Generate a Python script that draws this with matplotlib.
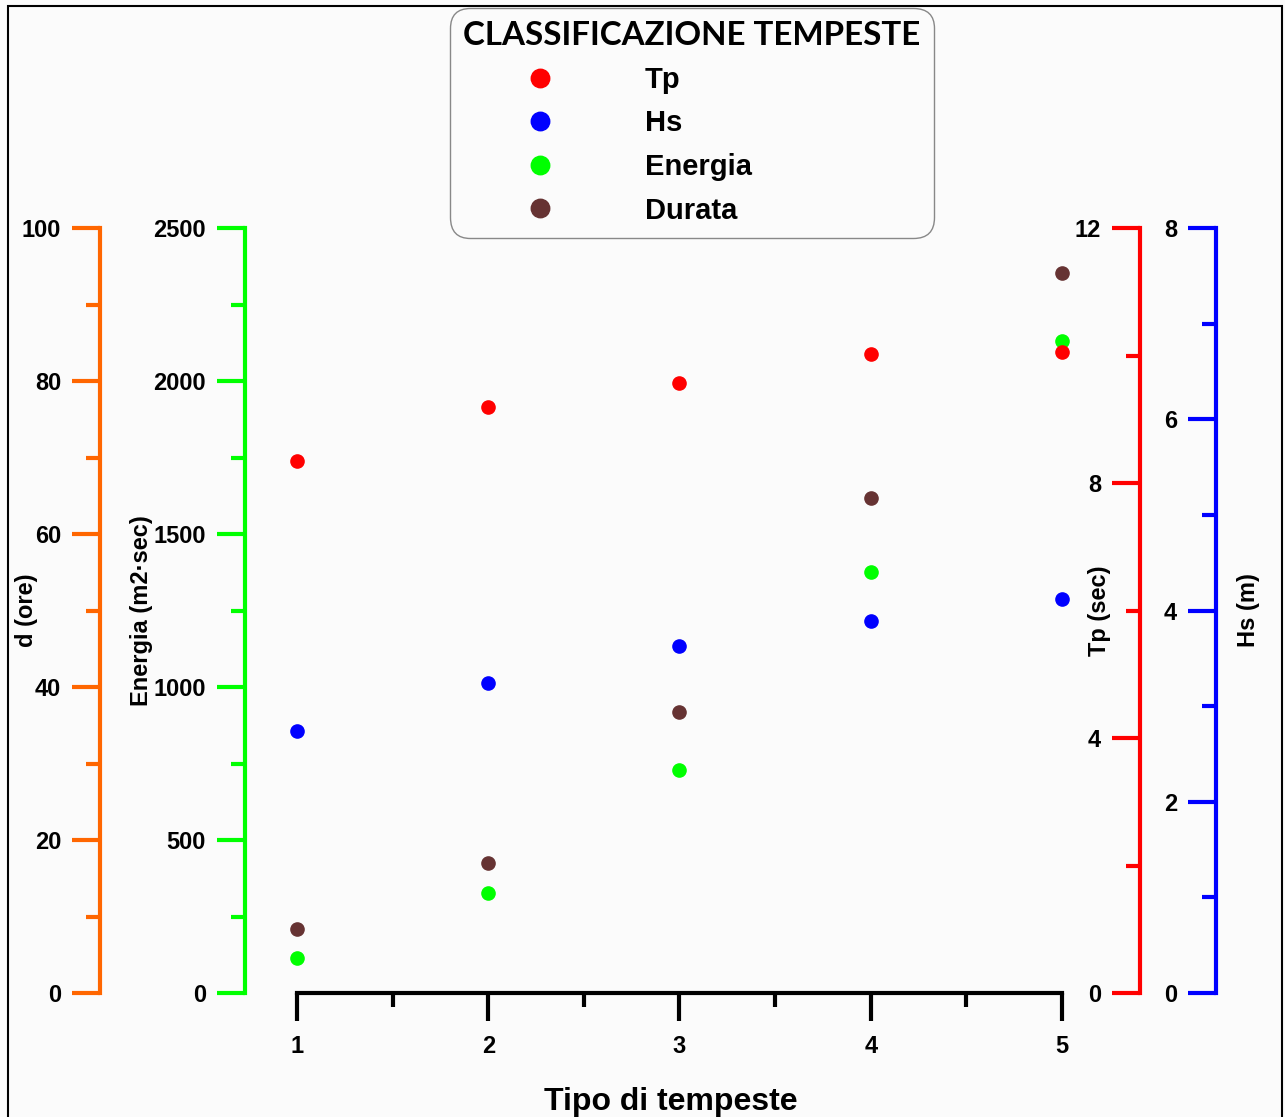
import matplotlib
matplotlib.use('Agg')
import matplotlib.pyplot as plt
from matplotlib.patches import Rectangle
from matplotlib.ticker import MultipleLocator, FixedLocator

# dati
tipo = [1, 2, 3, 4, 5]
tp = [8.35, 9.19, 9.57, 10.02, 10.05]          # sec
hs = [2.74, 3.24, 3.63, 3.89, 4.12]            # m
energia = [114, 327, 729, 1376, 2131]          # m2*sec
durata = [8.4, 17.0, 36.7, 64.7, 94.1]         # ore

plt.rcParams['font.family'] = ['Liberation Sans', 'DejaVu Sans']
plt.rcParams['font.weight'] = 'bold'

W, H = 1285, 1117
bg = '#fbfbfb'
fig = plt.figure(figsize=(W / 100, H / 100), dpi=100, facecolor=bg)

# area del grafico in pixel
L, R, B, T = 245, 1140, 993, 228
ax = fig.add_axes([L / W, 1 - B / H, (R - L) / W, (B - T) / H])
ax.set_facecolor('none')

ax_d = ax.twinx()
ax_tp = ax.twinx()
ax_hs = ax.twinx()


def style_axis(a, color, pos, ylim, major, minor, label, label_x):
    for s in a.spines.values():
        s.set_visible(False)
    sp = a.spines['left']
    sp.set_visible(True)
    sp.set_position(('axes', pos))
    sp.set_color(color)
    sp.set_linewidth(3)
    a.yaxis.set_ticks_position('left')
    a.yaxis.set_label_position('left')
    a.set_ylim(ylim)
    a.yaxis.set_major_locator(MultipleLocator(major))
    a.yaxis.set_minor_locator(MultipleLocator(minor))
    a.tick_params(axis='y', which='both', direction='out', color=color,
                  width=3, labelsize=17, pad=8)
    a.tick_params(axis='y', which='major', length=20)
    a.tick_params(axis='y', which='minor', length=10)
    a.set_ylabel(label, fontsize=17, fontweight='bold', va='center')
    a.yaxis.set_label_coords(label_x, 0.5)


style_axis(ax, '#00ff00', 0.0, (0, 2500), 500, 250, 'Energia (m2·sec)', -0.1162)
style_axis(ax_d, '#ff6600', -0.162, (0, 100), 20, 10, 'd (ore)', -0.2437)
style_axis(ax_tp, '#ff0000', 1.0, (0, 12), 4, 2, 'Tp (sec)', 0.955)
style_axis(ax_hs, '#0000ff', 1.085, (0, 8), 2, 1, 'Hs (m)', 1.1213)

# asse x
ax.spines['bottom'].set_visible(True)
ax.spines['bottom'].set_bounds(1, 5)
ax.spines['bottom'].set_linewidth(3)
ax.spines['bottom'].set_color('black')
ax.set_xlim(0.728, 5.408)
ax.xaxis.set_major_locator(FixedLocator(tipo))
ax.xaxis.set_minor_locator(FixedLocator([1.5, 2.5, 3.5, 4.5]))
ax.tick_params(axis='x', which='both', direction='out', color='black',
               width=3, labelsize=17, pad=10)
ax.tick_params(axis='x', which='major', length=20)
ax.tick_params(axis='x', which='minor', length=10)
ax.set_xlabel('Tipo di tempeste', fontsize=23, fontweight='bold', va='center')
ax.xaxis.set_label_coords((671 - L) / (R - L), (B - 1102) / (B - T))

ms = 9.5
h_en, = ax.plot(tipo, energia, 'o', color='#00ff00', ms=ms, clip_on=False)
h_d, = ax_d.plot(tipo, durata, 'o', color='#663333', ms=ms, clip_on=False)
h_tp, = ax_tp.plot(tipo, tp, 'o', color='#ff0000', ms=ms, clip_on=False)
h_hs, = ax_hs.plot(tipo, hs, 'o', color='#0000ff', ms=ms, clip_on=False)

leg = fig.legend([h_tp, h_hs, h_en, h_d], ['Tp', 'Hs', 'Energia', 'Durata'],
                 loc='upper left', bbox_to_anchor=(450 / W, 1 - 8 / H),
                 bbox_transform=fig.transFigure, borderaxespad=0,
                 title='CLASSIFICAZIONE TEMPESTE',
                 title_fontproperties={'family': 'Lato', 'weight': 'bold', 'size': 23.9},
                 alignment='left', fontsize=21, handlelength=5.3,
                 handletextpad=0.92, labelspacing=0.535, borderpad=0.45,
                 markerscale=1.4, numpoints=1, frameon=True,
                 facecolor=bg, edgecolor='#888888', framealpha=1)
leg.get_frame().set_boxstyle('round', pad=0, rounding_size=0.7)
leg.get_frame().set_linewidth(1)

# cornice esterna
fig.add_artist(Rectangle((8 / W, -0.01), (1282 - 8) / W, 1.01 - 6 / H,
                         transform=fig.transFigure, fill=False,
                         edgecolor='black', linewidth=1.5))

fig.savefig('out.png', dpi=100, facecolor=bg)
